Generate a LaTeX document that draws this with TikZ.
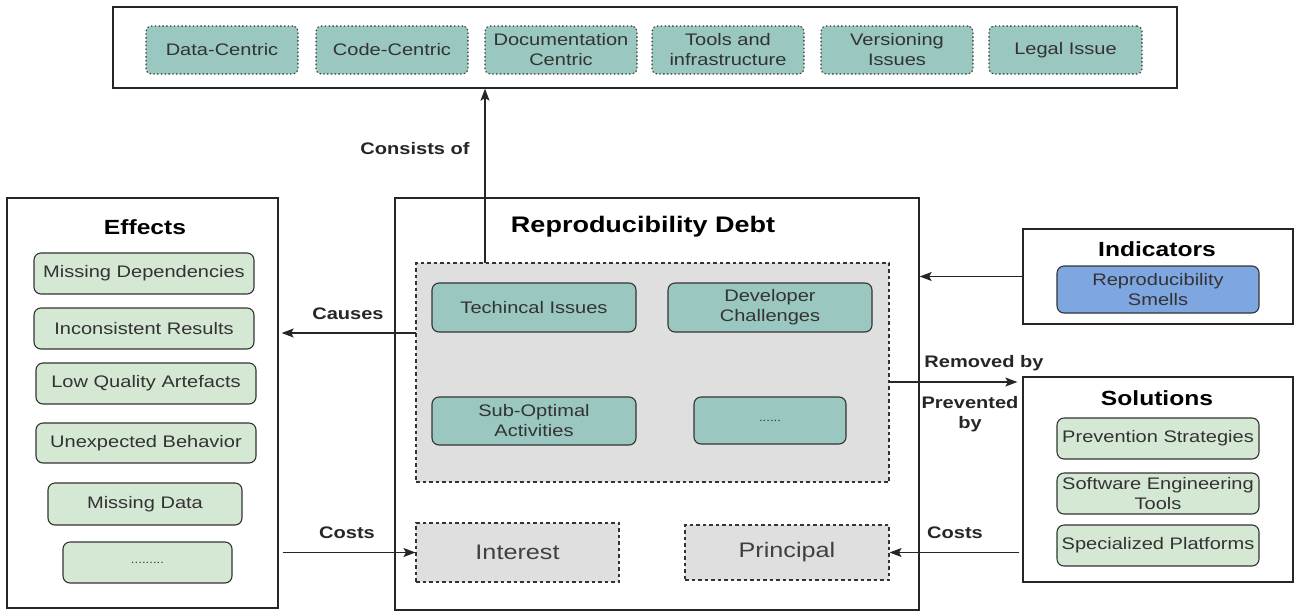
\documentclass[tikz,border=0pt]{standalone}
\usepackage{fontspec}
\setmainfont[FakeStretch=1.2]{Liberation Sans}
\usetikzlibrary{arrows.meta}
\definecolor{tealbox}{HTML}{9AC7BF}
\definecolor{greenbox}{HTML}{D5E8D4}
\definecolor{graybox}{HTML}{DFDFDF}
\definecolor{bluebox}{HTML}{7EA6E0}
\newcommand{\itemfont}{\fontsize{16.7}{20}\selectfont}
\newcommand{\headfont}{\bfseries\fontsize{20.5}{24}\selectfont}
\tikzset{
  sz/.style 2 args={minimum width=#1pt, minimum height=#2pt, inner sep=0pt},
  frame/.style={draw=black!85, line width=1.3pt},
  item/.style={draw=black!80, line width=1.1pt, rounded corners=7pt, align=center,
    text=black!80, font=\itemfont},
  cat/.style={item, fill=tealbox, rounded corners=5pt, dash pattern=on 1.4pt off 2.4pt},
  issue/.style={item, fill=tealbox},
  effect/.style={item, fill=greenbox},
  part/.style={draw=black!80, line width=1.1pt, fill=graybox, dash pattern=on 3.5pt off 3pt},
  head/.style={font=\headfont},
  lbl/.style={font=\bfseries\fontsize{16.7}{20}\selectfont, text=black!85, align=center},
  arr/.style={-{Stealth[length=12pt,width=9pt,inset=2.5pt]}, line width=1.2pt, draw=black!85},
}
\begin{document}
\begin{tikzpicture}[x=1pt, y=-1pt]
\useasboundingbox (0,0) rectangle (1295,611);

% kinds of debt
\node[frame, sz={1064}{81}] (cats) at (645,47.5) {};
\node[cat, sz={152}{48}] (datac) at (222,50) {Data-Centric};
\node[cat, sz={152}{48}] (codec) at (392,50) {Code-Centric};
\node[cat, sz={152}{48}] (docc) at (561,50) {Documentation\\Centric};
\node[cat, sz={152}{48}] (tools) at (728,50) {Tools and\\infrastructure};
\node[cat, sz={152}{48}] (vers) at (897,50) {Versioning\\Issues};
\node[cat, sz={153}{48}] (legal) at (1065.5,50) {Legal Issue};

% effects
\node[frame, sz={271}{410}] (effects) at (142.5,403) {};
\node[head] (efftitle) at (145,227) {Effects};
\node[effect, sz={220}{41}] (mdep) at (144,273.5) {Missing Dependencies};
\node[effect, sz={220}{41}] (incon) at (144,328.5) {Inconsistent Results};
\node[effect, sz={220}{41}] (lowq) at (146,383.5) {Low Quality Artefacts};
\node[effect, sz={220}{40}] (unexp) at (146,443) {Unexpected Behavior};
\node[effect, sz={194}{42}] (mdata) at (145,504) {Missing Data};
\node[effect, sz={169}{41}] (edots) at (147.5,562.5) {\fontsize{11}{12}\selectfont .........};

% the debt itself
\node[frame, sz={524}{412}] (debt) at (657,404) {};
\node[head, font=\bfseries\fontsize{22.5}{26}\selectfont] (debttitle) at (643,227) {Reproducibility Debt};
\node[part, sz={473}{219}] (core) at (652.5,372.5) {};
\node[issue, sz={204}{49}] (tech) at (534,307.5) {Techincal Issues};
\node[issue, sz={204}{49}] (devch) at (770,307.5) {Developer\\Challenges};
\node[issue, sz={204}{48}] (subopt) at (534,421) {Sub-Optimal\\Activities};
\node[issue, sz={152}{47}] (ddots) at (770,420.5) {\fontsize{11}{12}\selectfont ......};
\node[part, sz={203}{59}, text=black!75, font=\fontsize{21}{24}\selectfont] (interest) at (517.5,552.5) {Interest};
\node[part, sz={204}{55}, text=black!75, font=\fontsize{21}{24}\selectfont] (principal) at (787,552.5) {Principal};

% indicators
\node[frame, sz={270}{95}] (indic) at (1158,276.5) {};
\node[head] (indtitle) at (1157,249) {Indicators};
\node[item, fill=bluebox, sz={202}{47}] (smells) at (1158,289.5) {Reproducibility\\Smells};

% solutions
\node[frame, sz={270}{205}] (sol) at (1158,479.5) {};
\node[head] (soltitle) at (1157,398) {Solutions};
\node[effect, sz={202}{41}] (prev) at (1158,438.5) {Prevention Strategies};
\node[effect, sz={202}{41}] (swe) at (1158,493.5) {Software Engineering\\Tools};
\node[effect, sz={202}{41}] (spec) at (1158,545.5) {Specialized Platforms};

% connectors
\coordinate (cup) at (485,263);
\coordinate (cleft) at (416,333);
\coordinate (cright) at (889,382);
\draw[arr] (cup) -- (cup |- cats.south);
\draw[arr, shorten >=3pt] (cleft) -- (cleft -| effects.east);
\draw[arr, shorten <=4pt] (interest.west -| effects.east) -- (interest.west);
\draw[arr] (indic.west) -- (indic.west -| debt.east);
\draw[arr, shorten >=5pt] (cright) -- (cright -| sol.west);
\draw[arr, shorten <=3pt] (sol.west |- principal.east) -- (principal.east);

\node[lbl] (lcons) at (415,149) {Consists of};
\node[lbl] (lcaus) at (348,314) {Causes};
\node[lbl] (lcostl) at (347,533) {Costs};
\node[lbl] (lrem) at (984,363) {Removed by};
\node[lbl] (lprev) at (970,414) {Prevented\\by};
\node[lbl] (lcostr) at (955,533) {Costs};
\end{tikzpicture}
\end{document}
